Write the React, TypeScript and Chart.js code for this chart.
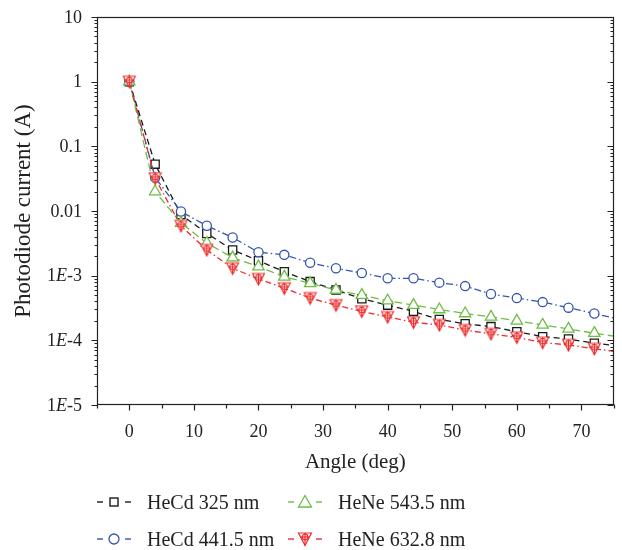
import React, { useEffect, useRef } from 'react';
import { Chart, registerables } from 'chart.js';
Chart.register(...registerables);

// ---- data ----
const angles = [0, 4, 8, 12, 16, 20, 24, 28, 32, 36, 40, 44, 48, 52, 56, 60, 64, 68, 72, 76];
const hecd325 = [1, 0.053, 0.0088, 0.0045, 0.0025, 0.0017, 0.00115, 0.00081, 0.0006, 0.00044, 0.00035, 0.00028, 0.00021, 0.00018, 0.000163, 0.000136, 0.000114, 0.000105, 0.00009, 0.000082];
const hecd4415 = [1, 0.033, 0.0098, 0.0059, 0.0039, 0.0023, 0.0021, 0.00158, 0.0013, 0.0011, 0.00091, 0.00091, 0.00078, 0.00069, 0.00052, 0.00045, 0.00039, 0.00032, 0.00026, 0.00021];
const hene5435 = [1, 0.02, 0.0065, 0.0032, 0.0019, 0.00138, 0.00096, 0.00076, 0.0006, 0.0005, 0.00041, 0.00035, 0.0003, 0.00026, 0.00023, 0.0002, 0.000173, 0.00015, 0.000129, 0.000112];
const hene6328 = [1, 0.032, 0.0059, 0.0025, 0.0013, 0.00089, 0.00064, 0.00045, 0.00035, 0.00028, 0.00023, 0.00019, 0.000173, 0.000144, 0.000126, 0.000111, 0.000092, 0.000085, 0.000074, 0.000066];
const seriesLabels = ['HeCd 325 nm', 'HeCd 441.5 nm', 'HeNe 543.5 nm', 'HeNe 632.8 nm'];

const xTickLabels = [0, 10, 20, 30, 40, 50, 60, 70];
const yMajorValues = [1e-5, 1e-4, 1e-3, 0.01, 0.1, 1, 10];
const yTickLabels = ['1E-5', '1E-4', '1E-3', '0.01', '0.1', '1', '10'];

const BLACK = '#1a1a1a';
const BLUE = '#3555ad';
const GREEN = '#6dbd45';
const RED = '#ee2a2a';
const FONT = "'Liberation Serif', 'Times New Roman', serif";

function yAllTicks(): number[] {
  const out: number[] = [];
  for (let e = -5; e <= 1; e++) {
    for (let m = 1; m <= 9; m++) {
      const v = Number((m * Math.pow(10, e)).toPrecision(6));
      if (v <= 10 + 1e-9) out.push(v);
      if (e === 1) break;
    }
  }
  return out;
}

function majorIndex(v: number): number {
  return yMajorValues.findIndex((m) => Math.abs(Math.log10(v) - Math.log10(m)) < 1e-6);
}

function makeRedMarker(): HTMLCanvasElement {
  const c = document.createElement('canvas');
  c.width = 15; c.height = 15;
  const g = c.getContext('2d')!;
  g.strokeStyle = RED; g.lineWidth = 1.1; g.fillStyle = '#fff';
  g.beginPath();
  g.moveTo(1.5, 2); g.lineTo(13.5, 2); g.lineTo(7.5, 13.5); g.closePath();
  g.fill(); g.stroke();
  g.beginPath();
  g.moveTo(7.5, 2); g.lineTo(7.5, 13.5);
  g.moveTo(3.5, 6); g.lineTo(11.5, 6);
  g.stroke();
  g.beginPath();
  g.arc(7.5, 6, 2.8, 0, Math.PI * 2);
  g.stroke();
  return c;
}

const framePlugin = {
  id: 'frameTicks',
  afterDraw(chart: any) {
    const { ctx, chartArea: a, scales } = chart;
    const xs = scales.x, ys = scales.y;
    const L = Math.round(a.left) + 0.5, R = Math.round(a.right) - 0.5;
    const T = Math.round(a.top) + 0.5, B = Math.round(a.bottom) - 0.5;
    ctx.save();
    ctx.strokeStyle = '#222';
    ctx.lineWidth = 1.2;
    ctx.strokeRect(L, T, R - L, B - T);
    ctx.beginPath();
    for (let v = -5; v <= 75; v += 5) {
      const x = Math.round(xs.getPixelForValue(v)) + 0.5;
      const len = v % 10 === 0 ? 6 : 4;
      ctx.moveTo(x, B); ctx.lineTo(x, B + len);
    }
    yAllTicks().forEach((v) => {
      const y = Math.round(ys.getPixelForValue(v)) + 0.5;
      const major = majorIndex(v) >= 0;
      const len = major ? 6 : 3;
      ctx.moveTo(L, y); ctx.lineTo(L - len, y);
      ctx.moveTo(R, y); ctx.lineTo(R - len, y);
    });
    ctx.stroke();

    // y tick labels (with italic E in scientific notation)
    ctx.fillStyle = '#222';
    ctx.textBaseline = 'middle';
    ctx.textAlign = 'left';
    const normal = `18px ${FONT}`;
    const italic = `italic 18px ${FONT}`;
    const rightX = a.left - 15;
    yMajorValues.forEach((v, i) => {
      const y = ys.getPixelForValue(v);
      const text = yTickLabels[i];
      const k = text.indexOf('E');
      const parts = k >= 0
        ? [{ t: text.slice(0, k), f: normal }, { t: 'E', f: italic }, { t: text.slice(k + 1), f: normal }]
        : [{ t: text, f: normal }];
      let w = 0;
      parts.forEach((p) => { ctx.font = p.f; w += ctx.measureText(p.t).width; });
      let x = rightX - w;
      parts.forEach((p) => { ctx.font = p.f; ctx.fillText(p.t, x, y + 1); x += ctx.measureText(p.t).width; });
    });
    ctx.restore();
  },
};

function Marker({ kind, color }: { kind: string; color: string }) {
  let shape: React.ReactNode = null;
  if (kind === 'square') shape = <rect x={13} y={5} width={8} height={8} fill="#fff" stroke={color} strokeWidth={1.4} />;
  if (kind === 'circle') shape = <circle cx={17} cy={9} r={5} fill="#fff" stroke={color} strokeWidth={1.3} />;
  if (kind === 'triangle') shape = <polygon points="17,2.5 23.5,14 10.5,14" fill="#fff" stroke={color} strokeWidth={1.3} />;
  if (kind === 'down') shape = (
    <g stroke={color} strokeWidth={1.2} fill="#fff">
      <polygon points="10.5,3 23.5,3 17,15.5" />
      <line x1={17} y1={3} x2={17} y2={15.5} />
      <line x1={13} y1={7} x2={21} y2={7} />
      <circle cx={17} cy={7} r={2.8} fill="none" />
    </g>
  );
  return (
    <svg width={34} height={18} style={{ position: 'absolute', left: 0, top: 0 }}>
      <line x1={0} y1={9} x2={6} y2={9} stroke={color} strokeWidth={1.4} />
      <line x1={28} y1={9} x2={34} y2={9} stroke={color} strokeWidth={1.4} />
      {shape}
    </svg>
  );
}

export default function App() {
  const ref = useRef<HTMLCanvasElement>(null);
  useEffect(() => {
    const red = makeRedMarker();
    const mk = (label: string, data: number[], color: string, dash: number[], style: any, radius: number, order: number) => ({
      label,
      data: angles.map((a, i) => ({ x: a, y: data[i] })),
      borderColor: color,
      borderWidth: 1.3,
      borderDash: dash,
      pointStyle: style,
      pointRadius: radius,
      pointBorderColor: color,
      pointBackgroundColor: '#fff',
      pointBorderWidth: 1.3,
      fill: false,
      tension: 0,
      order,
    });
    const chart = new Chart(ref.current!, {
      type: 'line',
      data: {
        datasets: [
          mk(seriesLabels[0], hecd325, BLACK, [6, 4], 'rect', 5.8, 3),
          mk(seriesLabels[1], hecd4415, BLUE, [7, 3, 1.5, 3], 'circle', 4.6, 2),
          mk(seriesLabels[2], hene5435, GREEN, [8, 4], 'triangle', 6.5, 1),
          mk(seriesLabels[3], hene6328, RED, [6, 3, 1.5, 3], red, 7, 0),
        ] as any,
      },
      options: {
        animation: false,
        responsive: false,
        maintainAspectRatio: false,
        layout: { padding: { left: 0, right: -1, top: 17, bottom: 75 } },
        plugins: { legend: { display: false }, tooltip: { enabled: false } },
        scales: {
          x: {
            type: 'linear',
            min: -5,
            max: 75,
            grid: { display: false, drawTicks: false },
            border: { display: false },
            afterBuildTicks: (s: any) => { s.ticks = xTickLabels.map((v) => ({ value: v })); },
            afterFit: (s: any) => { s.height = 70; s.paddingLeft = 0; s.paddingRight = 0; },
            ticks: { font: { family: FONT, size: 18 }, color: '#222', padding: 16, maxRotation: 0, autoSkip: false },
            title: { display: true, text: 'Angle (deg)', font: { family: FONT, size: 21 }, color: '#222', padding: { top: 0, bottom: 0 } },
          },
          y: {
            type: 'logarithmic',
            min: 1e-5,
            max: 10,
            grid: { display: false, drawTicks: false },
            border: { display: false },
            afterBuildTicks: (s: any) => { s.ticks = yAllTicks().map((v) => ({ value: v, major: majorIndex(v) >= 0 })); },
            afterFit: (s: any) => { s.width = 97; s.paddingTop = 0; s.paddingBottom = 0; },
            ticks: { display: false },
            title: { display: true, text: 'Photodiode current (A)', font: { family: FONT, size: 23 }, color: '#222', padding: { top: 10, bottom: 0 } },
          },
        },
      } as any,
      plugins: [framePlugin],
    });
    return () => chart.destroy();
  }, []);

  const legendItems = [
    { label: seriesLabels[0], kind: 'square', color: BLACK, left: 97, top: 492 },
    { label: seriesLabels[2], kind: 'triangle', color: GREEN, left: 288, top: 492 },
    { label: seriesLabels[1], kind: 'circle', color: BLUE, left: 97, top: 529 },
    { label: seriesLabels[3], kind: 'down', color: RED, left: 288, top: 529 },
  ];

  return (
    <div style={{ position: 'absolute', left: 0, top: 0, width: 622, height: 550, background: '#fff' }}>
      <canvas ref={ref} width={622} height={550} style={{ display: 'block' }} />
      {legendItems.map((it) => (
        <div key={it.label} style={{ position: 'absolute', left: it.left, top: it.top, height: 20, width: 200 }}>
          <div style={{ position: 'absolute', left: 0, top: 1 }}>
            <Marker kind={it.kind} color={it.color} />
          </div>
          <span style={{ position: 'absolute', left: 50, top: 0, font: `20px ${FONT}`, lineHeight: '20px', color: '#222', whiteSpace: 'nowrap' }}>{it.label}</span>
        </div>
      ))}
    </div>
  );
}
